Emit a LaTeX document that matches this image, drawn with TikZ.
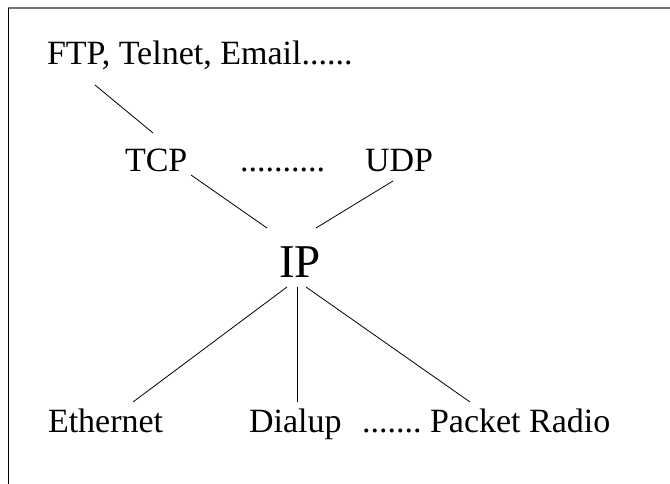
\documentclass[tikz,border=0pt]{standalone}
\usepackage{fontspec}
\setmainfont{Liberation Serif}
\usetikzlibrary{calc}
\begin{document}
\begin{tikzpicture}[x=1pt,y=-1pt,
  lbl/.style={anchor=base west,inner sep=0pt,outer sep=0pt,font=\fontsize{34}{40}\selectfont},
  big/.style={anchor=base west,inner sep=0pt,outer sep=0pt,font=\fontsize{47}{54}\selectfont},
  conn/.style={draw=black,line width=0.8pt}]
\useasboundingbox (0,0) rectangle (670,484);
\draw[black!55,line width=1.3pt] (8,8) -- (670,8);
\draw[black,line width=0.9pt] (8,8) -- (8,484);
\node[lbl] (ftp) at (47,65) {FTP, Telnet, Email......};
\node[lbl] (tcp) at (125,172) {TCP};
\node[lbl] (dots1) at (240,172) {..........};
\node[lbl] (udp) at (365,172) {UDP};
\node[big] (ip) at (279,277) {IP};
\node[lbl] (eth) at (48,432) {Ethernet};
\node[lbl] (dial) at (249,432) {Dialup};
\node[lbl] (dots2) at (362,432) {.......};
\node[lbl] (pkt) at (430,432) {Packet Radio};
\draw[conn] ($(ftp.base west)+(48,20)$) -- ($(tcp.base west)+(28,-39)$);
\draw[conn] ($(tcp.base west)+(66,3)$) -- ($(ip.base west)+(-12,-49)$);
\draw[conn] ($(udp.base west)+(28,9)$) -- ($(ip.base west)+(37,-49)$);
\draw[conn] ($(ip.base west)+(8,10)$) -- ($(eth.base west)+(85,-30)$);
\draw[conn] ($(ip.base west)+(18,10)$) -- ($(dial.base west)+(48,-30)$);
\draw[conn] ($(ip.base west)+(27,10)$) -- ($(pkt.base west)+(40,-30)$);
\end{tikzpicture}
\end{document}
